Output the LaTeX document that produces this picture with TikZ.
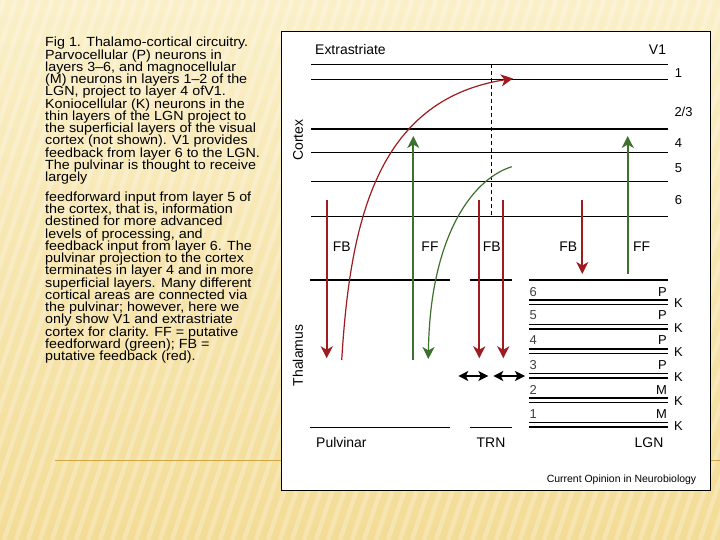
\documentclass[tikz,border=0pt]{standalone}
\usepackage{fontspec}
\setmainfont{Liberation Sans}
\newfontfamily\captionfamily[FakeStretch=1.08,Ligatures=TeX]{Liberation Sans}
\usetikzlibrary{arrows.meta,positioning,calc}
\definecolor{fbred}{RGB}{158,28,32}
\definecolor{ffgreen}{RGB}{62,112,46}
\definecolor{bgtop}{RGB}{250,239,200}
\definecolor{bgbot}{RGB}{243,220,150}
\definecolor{rulegold}{RGB}{210,165,70}
\newcommand\captionfont{\captionfamily\fontsize{13.3}{12.3}\selectfont\lineskiplimit=-20pt\relax\lineskip=0pt\relax}

\begin{document}
\begin{tikzpicture}[x=1bp,y=-1bp,
  layer/.style={line width=1.4bp},
  fb/.style={fbred,line width=1.8bp,-{Stealth[length=12bp,width=12bp,inset=3.5bp]}},
  ff/.style={ffgreen,line width=1.8bp,-{Stealth[length=12bp,width=12bp,inset=3.5bp]}},
  both/.style={line width=1.3bp,{Stealth[length=10bp,width=10bp,inset=2.5bp]}-{Stealth[length=10bp,width=10bp,inset=2.5bp]}},
  lab/.style={font=\fontsize{14}{14}\selectfont,inner sep=0pt},
  small/.style={font=\fontsize{13}{13}\selectfont,inner sep=0pt}]
\useasboundingbox (0,0) rectangle (720,540);
% slide background
\fill[top color=bgtop,bottom color=bgbot] (0,0) rectangle (720,540);
\begin{scope}
\clip (0,0) rectangle (720,540);
\foreach \s in {-200,-188,...,720}
  \draw[white,opacity=0.25,line width=4.5bp] (\s,540) -- ++(180,-540);
\end{scope}
\draw[rulegold,line width=0.8bp] (55,460.5) -- (720,460.5);
% caption
\node[anchor=north west,inner sep=0pt,align=left,font=\captionfont] (caption) at (45,37)
 {Fig 1. Thalamo-cortical circuitry.\\
  Parvocellular (P) neurons in\\
  layers 3--6, and magnocellular\\
  (M) neurons in layers 1--2 of the\\
  LGN, project to layer 4 ofV1.\\
  Koniocellular (K) neurons in the\\
  thin layers of the LGN project to\\
  the superficial layers of the visual\\
  cortex (not shown). V1 provides\\
  feedback from layer 6 to the LGN.\\
  The pulvinar is thought to receive\\
  largely\\[7.5bp]
  feedforward input from layer 5 of\\
  the cortex, that is, information\\
  destined for more advanced\\
  levels of processing, and\\
  feedback input from layer 6. The\\
  pulvinar projection to the cortex\\
  terminates in layer 4 and in more\\
  superficial layers. Many different\\
  cortical areas are connected via\\
  the pulvinar; however, here we\\
  only show V1 and extrastriate\\
  cortex for clarity. FF = putative\\
  feedforward (green); FB =\\
  putative feedback (red).};
% figure panel
\draw[line width=1bp,fill=white] (281,32) rectangle (710,490);
% cortex
\foreach \y in {64.3,79.3,129,152.7,181.7,216.7}
  \draw[layer] (311,\y) -- (668,\y);
\draw[line width=0.8bp,dash pattern=on 4bp off 3bp] (491.7,64.3) -- (491.7,216.7);
\node[lab,anchor=west] (extra) at (315,50) {Extrastriate};
\node[lab] (vone) at (657.5,50) {V1};
\node[small] (l1) at (678.5,72.7) {1};
\node[small] (l23) at (683.5,111.7) {2/3};
\node[small] (l4) at (678.5,143.3) {4};
\node[small] (l5) at (678.5,168.3) {5};
\node[small] (l6) at (678.5,200) {6};
\node[lab,rotate=90] (cortex) at (298,140) {Cortex};
\node[lab,rotate=90] (thal) at (298,355.5) {Thalamus};
% thalamus
\foreach \y in {280,427.3} {
  \draw[layer] (310,\y) -- (449.5,\y);
  \draw[layer] (469.5,\y) -- (511.7,\y);
}
\draw[layer] (529.3,280) -- (668.3,280);
\foreach \y in {300,324.5,...,425} {
  \draw[layer] (529.3,\y) -- (668.3,\y);
  \draw[layer] (529.3,\y+4.4) -- (668.3,\y+4.4);
  \node[small] at (678.5,\y+3.2) {K};
}
\foreach \n/\c/\y in {6/P/291.7,5/P/315.5,4/P/340.5,3/P/365.5,2/M/390,1/M/414.5} {
  \node[small,anchor=west,text=black!75] (num\n) at (529.5,\y) {\n};
  \node[small,anchor=east] (cell\n) at (667,\y) {\c};
}
% FB / FF
\node[lab] (fb1) at (341.7,246.7) {FB};
\node[lab] (ff1) at (430,246.7) {FF};
\node[lab] (fb2) at (491.7,246.7) {FB};
\node[lab] (fb3) at (568.3,246.7) {FB};
\node[lab] (ff2) at (641.7,246.7) {FF};
\coordinate (pulvtop) at (326.7,200);
\coordinate (pulvbot) at (326.7,358.3);
\coordinate (trnatop) at (479.3,200);
\coordinate (trnabot) at (479.3,358.3);
\coordinate (trnbtop) at (503.3,200);
\coordinate (trnbbot) at (503.3,358.3);
\coordinate (lgnfbtop) at (582.3,200);
\coordinate (lgnfbbot) at (582.3,274);
\coordinate (pulvff) at (413.3,360);
\coordinate (pulvfftip) at (413.3,136);
\coordinate (lgnff) at (627.7,274);
\coordinate (lgnfftip) at (627.7,136);
\draw[fb] (pulvtop) -- (pulvbot);
\draw[fb] (trnatop) -- (trnabot);
\draw[fb] (trnbtop) -- (trnbbot);
\draw[fb] (lgnfbtop) -- (lgnfbbot);
\draw[ff] (pulvff) -- (pulvfftip);
\draw[ff] (lgnff) -- (lgnfftip);
\draw[fb,line width=1.2bp] (341.7,360) .. controls (350,225) and (375,100) .. (513,78.5);
\draw[ff,line width=1.2bp] (511.7,166.7) .. controls (470,180) and (430,240) .. (428.3,359);
\draw[both] (458.3,376) -- (488.3,376);
\draw[both] (493.3,376) -- (525,376);
% bottom labels
\node[lab,anchor=west] (pulv) at (316,443) {Pulvinar};
\node[lab] (trn) at (491,443) {TRN};
\node[lab] (lgn) at (649,443) {LGN};
\node[font=\fontsize{10.5}{10.5}\selectfont,inner sep=0pt] (journal) at (621.5,480) {Current Opinion in Neurobiology};
\end{tikzpicture}
\end{document}
